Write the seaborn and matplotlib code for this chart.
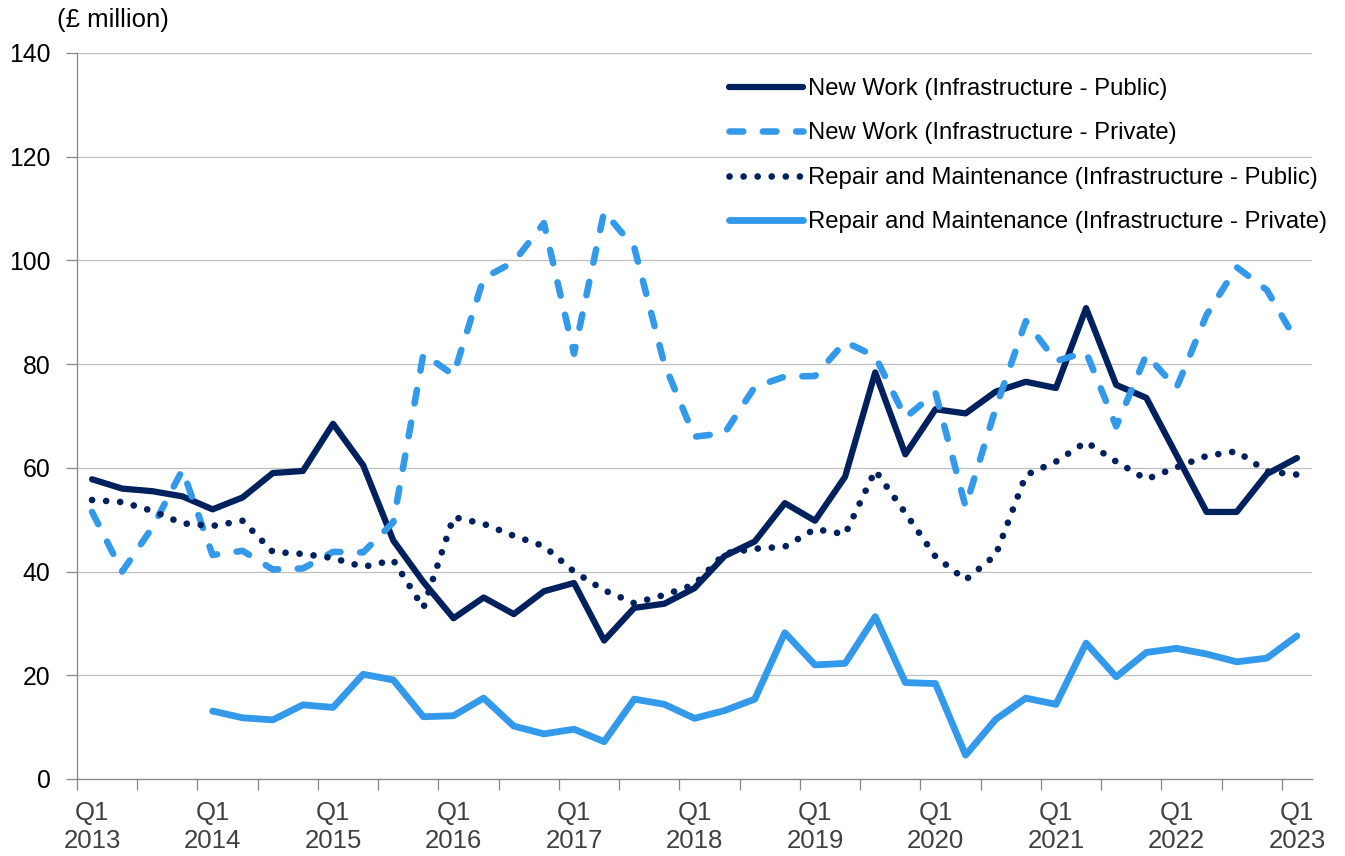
import numpy as np
import pandas as pd
import matplotlib
matplotlib.use("Agg")
import matplotlib.pyplot as plt
import seaborn as sns

# ---- data ----
quarters = [f"Q{q} {y}" for y in range(2013, 2024) for q in range(1, 5)][:41]
year_labels = ["Q1\n" + str(y) for y in range(2013, 2024)]

new_work_public = [57.8, 56.0, 55.5, 54.5, 52.0, 54.3, 59.0, 59.4, 68.5, 60.5,
                   46.0, 38.0, 31.0, 35.0, 31.8, 36.2, 37.8, 26.7, 33.0, 33.8,
                   36.8, 43.0, 45.8, 53.2, 49.8, 58.3, 78.4, 62.6, 71.3, 70.5,
                   74.7, 76.6, 75.4, 90.8, 76.0, 73.5, 62.5, 51.5, 51.5, 58.8,
                   61.9]
new_work_private = [51.5, 40.0, 48.5, 59.6, 43.2, 44.0, 40.4, 40.6, 43.8, 43.7,
                    49.5, 82.0, 77.9, 96.6, 99.7, 107.2, 82.0, 109.4, 102.5, 80.0,
                    66.0, 66.7, 75.6, 77.6, 77.7, 84.3, 81.5, 69.7, 74.5, 52.5,
                    71.5, 88.3, 80.6, 82.3, 68.0, 81.8, 75.4, 89.5, 98.7, 94.3,
                    84.3]
rm_public = [53.8, 53.4, 51.7, 49.3, 48.8, 49.8, 43.8, 43.4, 42.6, 40.9,
             42.2, 33.0, 50.5, 49.2, 46.9, 44.9, 40.0, 36.4, 33.9, 35.5,
             37.5, 43.5, 44.4, 44.8, 48.2, 47.2, 59.5, 51.3, 42.9, 38.4,
             43.2, 58.6, 61.2, 65.0, 61.2, 57.8, 60.1, 62.3, 63.2, 59.3,
             58.7]
rm_private = [np.nan, np.nan, np.nan, np.nan, 13.1, 11.8, 11.4, 14.3, 13.8, 20.2,
              19.1, 12.0, 12.2, 15.6, 10.2, 8.7, 9.6, 7.2, 15.4, 14.4,
              11.7, 13.2, 15.4, 28.2, 22.0, 22.3, 31.3, 18.6, 18.4, 4.6,
              11.5, 15.6, 14.4, 26.2, 19.7, 24.4, 25.2, 24.1, 22.6, 23.3,
              27.6]
series_names = ["New Work (Infrastructure - Public)",
                "New Work (Infrastructure - Private)",
                "Repair and Maintenance (Infrastructure - Public)",
                "Repair and Maintenance (Infrastructure - Private)"]

NAVY = "#00215E"
LIGHT = "#3399EB"

sns.set_theme(style="white")
plt.rcParams["font.family"] = ["Liberation Sans", "DejaVu Sans"]

W, H = 1345, 856
fig = plt.figure(figsize=(W / 100, H / 100), dpi=100)
left, right, top, bottom = 77, 1312, 53, 779
ax = fig.add_axes([left / W, 1 - bottom / H, (right - left) / W, (bottom - top) / H])

idx = np.arange(len(quarters))
styles = [
    dict(color=NAVY, linewidth=4.5, linestyle="-"),
    dict(color=LIGHT, linewidth=4.7, linestyle=(0, (2.1, 3.0))),
    dict(color=NAVY, linewidth=4.8, linestyle=(0, (0.01, 2.1))),
    dict(color=LIGHT, linewidth=4.9, linestyle="-"),
]
data = [new_work_public, new_work_private, rm_public, rm_private]
for name, vals, st in zip(series_names, data, styles):
    df = pd.DataFrame({"q": idx, "v": vals}).dropna()
    sns.lineplot(data=df, x="q", y="v", ax=ax, label=name,
                 solid_capstyle="round", dash_capstyle="round",
                 solid_joinstyle="round", dash_joinstyle="round", **st)

ax.set_xlim(-0.5, 40.5)
ax.set_ylim(0, 140)
ax.set_yticks(np.arange(0, 141, 20))
ax.yaxis.grid(True, color="#BFBFBF", linewidth=0.9)
ax.xaxis.grid(False)
ax.set_xlabel("")
ax.set_ylabel("")

# tick marks between categories, labels on Q1 positions
ax.set_xticks(np.arange(-0.5, 40, 2))
ax.set_xticklabels([])
ax.set_xticks(np.arange(0, 41, 4), minor=True)
ax.set_xticklabels(year_labels, minor=True)
for t in ax.get_xticklabels(minor=True):
    t.set_linespacing(1.22)
ax.tick_params(axis="x", which="major", length=8, width=0.9, color="#868686",
               direction="out", bottom=True)
ax.tick_params(axis="x", which="minor", length=0, pad=16, labelsize=18.5,
               labelcolor="#404040")
ax.tick_params(axis="y", length=8, width=0.9, color="#868686", direction="out",
               left=True, pad=11, labelsize=17.8, labelcolor="#000000")

for s in ["top", "right"]:
    ax.spines[s].set_visible(False)
for s in ["left", "bottom"]:
    ax.spines[s].set_color("#868686")
    ax.spines[s].set_linewidth(0.9)

leg = ax.legend(loc="upper left", bbox_to_anchor=(729 / W, 1 - 78 / H),
                bbox_transform=fig.transFigure, frameon=False, fontsize=17.2,
                handlelength=3.1, handletextpad=0.2, labelspacing=0.94,
                borderpad=0, borderaxespad=0)
for t in leg.get_texts():
    t.set_color("#000000")

fig.text(57 / W, 1 - 20 / H, "(£ million)", fontsize=18.5, va="center", ha="left",
         color="#000000")

fig.savefig("out.png", dpi=100)
